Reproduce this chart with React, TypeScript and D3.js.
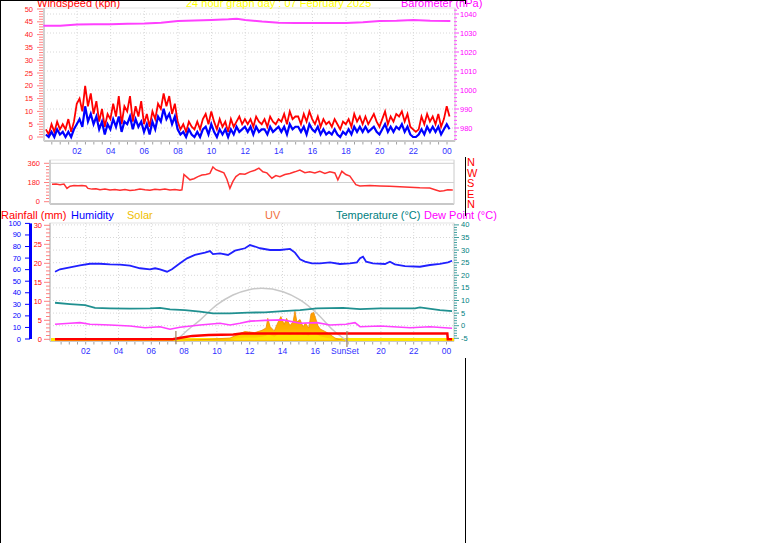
import React from "react";
import * as d3 from "d3";

const FONT = '"Liberation Sans", Arial, Helvetica, sans-serif';

// ---------- top panel data (10-minute samples from 00:09) ----------
const windStartHour = 0.15;
const windStepHour = 1 / 6;
const windGust = [
  3, 1, 5, 2, 6, 3, 5, 3, 7, 2, 6, 13, 15, 10, 20, 12, 17, 9, 14, 6, 11, 4, 9, 7,
  13, 8, 16, 5, 12, 10, 16, 6, 12, 8, 14, 5, 9, 4, 10, 7, 13, 11, 17, 12, 16, 9, 13, 6,
  3, 5, 2, 6, 4, 3, 6, 3, 7, 9, 5, 10, 6, 3, 7, 4, 6, 2, 7, 4, 6, 8, 5, 7,
  5, 7, 4, 8, 6, 5, 7, 4, 8, 6, 5, 7, 6, 9, 5, 10, 7, 8, 8, 5, 9, 6, 10, 7,
  5, 8, 4, 7, 5, 6, 4, 7, 5, 3, 6, 5, 7, 4, 9, 6, 8, 5, 8, 5, 7, 9, 6, 4,
  7, 10, 5, 8, 6, 9, 8, 10, 6, 9, 4, 3, 2, 3, 8, 5, 9, 6, 8, 5, 9, 4, 7, 12, 8,
];
const windAvg = [
  1, 0, 2, 0, 3, 1, 2, 0, 2, 0, 3, 5, 7, 4, 12, 6, 9, 5, 8, 3, 6, 1, 5, 3,
  7, 4, 8, 2, 6, 5, 8, 3, 7, 4, 6, 2, 5, 1, 6, 3, 8, 6, 11, 7, 9, 5, 8, 3,
  1, 2, 0, 3, 1, 0, 2, 0, 3, 4, 1, 5, 2, 0, 3, 1, 3, 0, 3, 1, 4, 2, 3, 4,
  2, 4, 1, 4, 2, 3, 3, 1, 4, 2, 3, 4, 2, 4, 1, 5, 3, 4, 4, 2, 4, 1, 5, 3,
  2, 4, 1, 3, 1, 2, 1, 3, 1, 0, 2, 1, 3, 1, 4, 2, 4, 2, 4, 2, 3, 4, 2, 1,
  3, 5, 2, 4, 2, 4, 3, 5, 2, 4, 1, 0, 0, 1, 3, 1, 4, 2, 4, 2, 4, 1, 3, 5, 3,
];
const baroHours = [0, 1, 2, 3, 4, 5, 6, 7, 8, 9, 10, 11, 11.5, 12, 13, 14, 15, 16, 17, 18, 19, 20, 21, 22, 23, 24.2];
const baroValues = [
  1033.8, 1033.8, 1034.5, 1034.6, 1034.6, 1034.9, 1035.0, 1035.4, 1036.3, 1036.6, 1036.9, 1037.2, 1037.5,
  1036.9, 1036.0, 1035.4, 1035.3, 1035.3, 1035.3, 1035.3, 1035.7, 1036.3, 1036.4, 1036.8, 1036.4, 1036.3,
];
const windTicks = [0, 5, 10, 15, 20, 25, 30, 35, 40, 45, 50];
const baroTicks = [980, 990, 1000, 1010, 1020, 1030, 1040];
const timeTickHours = [2, 4, 6, 8, 10, 12, 14, 16, 18, 20, 22, 24];
const timeTickLabels = ["02", "04", "06", "08", "10", "12", "14", "16", "18", "20", "22", "00"];

// ---------- middle panel: wind direction ----------
const dirHours = [
  0.15, 0.39, 0.63, 0.87, 1.05, 1.23, 1.47, 1.71, 1.95, 2.19, 2.31, 2.55, 2.79, 3.03, 3.33, 3.63, 3.93, 4.23,
  4.53, 4.83, 5.13, 5.43, 5.73, 6.03, 6.33, 6.63, 6.93, 7.23, 7.53, 7.83, 7.95, 8.07, 8.25, 8.43, 8.67, 8.91,
  9.15, 9.39, 9.63, 9.81, 9.99, 10.23, 10.47, 10.65, 10.83, 11.01, 11.19, 11.43, 11.73, 12.03, 12.33, 12.57,
  12.81, 13.05, 13.35, 13.59, 13.83, 14.13, 14.43, 14.73, 15.03, 15.33, 15.63, 15.93, 16.23, 16.53, 16.83,
  17.13, 17.31, 17.55, 17.79, 18.03, 18.21, 18.39, 18.63, 19.23, 19.83, 20.43, 21.03, 21.63, 22.23, 22.83,
  23.19, 23.43, 23.67, 23.91, 24.21,
];
const dirValues = [
  163, 165, 160, 166, 125, 145, 152, 150, 152, 148, 125, 118, 122, 112, 118, 110, 114, 108,
  115, 105, 110, 118, 112, 108, 116, 112, 118, 110, 114, 108, 112, 255, 230, 205, 215, 235,
  250, 255, 265, 325, 300, 285, 270, 210, 125, 190, 235, 262, 258, 280, 295, 315,
  280, 270, 220, 245, 235, 255, 265, 280, 297, 272, 280, 270, 285, 265, 280,
  270, 205, 285, 255, 240, 200, 160, 148, 152, 148, 145, 140, 135, 130, 128,
  110, 98, 102, 112, 110,
];
const dirTicks = [0, 180, 360];
const compassLabels = ["N", "W", "S", "E", "N"];

// ---------- bottom panel ----------
const humHours = [
  0.13, 0.43, 1.04, 1.65, 2.26, 2.87, 3.48, 4.09, 4.7, 5.31, 5.92, 6.23, 6.53, 6.96, 7.26, 7.75, 8.18, 8.66,
  9.27, 9.58, 9.76, 10.19, 10.68, 11.1, 11.71, 12.02, 12.32, 12.63, 13.24, 13.85, 14.46, 14.76, 15.07, 15.37,
  15.8, 16.29, 16.9, 17.5, 18.11, 18.54, 18.73, 18.91, 19.1, 19.52, 20.25, 20.55, 20.85, 21.47, 22.38, 22.99,
  23.6, 24.09, 24.34,
];
const humValues = [
  58.2, 60.3, 62, 63.7, 65.1, 65.1, 64.5, 64.3, 63.4, 61.2, 60.3, 61.2, 60.3, 58.2, 60.3, 65.5, 69.8, 72.7,
  74.7, 76.1, 73.5, 74.1, 72.7, 76.4, 78.5, 81.3, 80, 78.5, 77, 77, 77.9, 74.7, 68.9, 66.9,
  65.5, 65.5, 66.3, 64.9, 65.5, 66.3, 69.8, 71.2, 66.9, 65.5, 64.9, 66.9, 64.6, 63.1, 62.5, 64,
  64.9, 66.3, 67.7,
];
const tempHours = [
  0.13, 1.04, 1.96, 2.57, 3.48, 4.7, 5.92, 6.53, 7.14, 8.05, 8.97, 9.76, 10.8, 11.9, 12.93, 14.03, 15.07,
  16.1, 17.69, 18.73, 19.95, 22.08, 22.38, 23.6, 24.34,
];
const tempValues = [
  9.1, 8.6, 8.2, 7.1, 6.9, 6.8, 6.9, 7.1, 6.5, 6.2, 5.6, 4.9, 4.9, 5.2, 5.3, 5.8, 6.2,
  6.9, 7.1, 6.6, 6.9, 6.9, 7.3, 6.2, 5.8,
];
const dewHours = [
  0.13, 1.04, 1.65, 2.26, 3.48, 4.7, 5.62, 6.53, 7.14, 7.75, 8.97, 10.19, 10.8, 11.41, 12.02, 12.93, 14.03,
  15.07, 16.1, 16.9, 17.87, 18.42, 18.73, 19.95, 21.78, 22.99, 24.34,
];
const dewValues = [
  0.56, 0.95, 1.2, 0.56, 0.28, -0.1, -0.8, -0.4, -1.4, -0.6, 0.28, 0.95, 0.28, 0.95, 1.8, 2.1, 2.3,
  0.95, 1.2, 0.28, 0.56, 1.2, -0.4, -0.1, -0.8, -0.4, -1.0,
];
const rainHours = [0.13, 7.3, 7.8, 8.5, 9.5, 11.0, 11.5, 24.05, 24.08, 24.34];
const rainValues = [0, 0, 0.4, 0.9, 1.1, 1.25, 1.5, 1.5, 0, 0];
const solarHours = [
  7.5, 8.36, 9.58, 10.8, 11.7, 12.3, 12.75, 13.0, 13.1, 13.25, 13.5, 13.7, 13.9, 14.1, 14.25, 14.45, 14.64,
  14.76, 14.88, 15.07, 15.25, 15.4, 15.6, 15.74, 15.9, 16.0, 16.16, 16.3, 16.6, 16.9, 17.2, 17.5, 17.8,
];
const solarValues = [
  0, 5, 15, 25, 80, 70, 90, 110, 190, 120, 85, 150, 205, 140, 190, 130, 160,
  250, 160, 180, 120, 150, 110, 230, 240, 200, 130, 100, 80, 55, 25, 10, 0,
];
const uvValues = [
  0, 2, 6, 10, 30, 28, 35, 45, 60, 50, 35, 55, 70, 55, 65, 50, 60,
  75, 60, 65, 50, 55, 45, 70, 72, 65, 50, 40, 30, 20, 10, 4, 0,
];
const sunHours = [7.5, 8.2, 8.97, 9.99, 10.98, 11.9, 12.73, 14.03, 15.07, 16.09, 17.08, 17.93];
const sunValues = [0, 9, 17.6, 30.3, 38.7, 42.9, 44.3, 41.4, 34.5, 23.3, 9.2, 0];
const sunriseHour = 7.5;
const sunsetHour = 17.93;
const humTicks = [0, 10, 20, 30, 40, 50, 60, 70, 80, 90, 100];
const rainTicks = [0, 5, 10, 15, 20, 25, 30];
const tempTicks = [-5, 0, 5, 10, 15, 20, 25, 30, 35, 40];
const bottomTickHours = [2, 4, 6, 8, 10, 12, 14, 16, 20, 22, 24];
const bottomTickLabels = ["02", "04", "06", "08", "10", "12", "14", "16", "20", "22", "00"];
const legendItems = [
  { label: "Rainfall (mm)", x: 1, color: "#ff0000" },
  { label: "Humidity", x: 71, color: "#0000ff" },
  { label: "Solar", x: 127, color: "#f0c000" },
  { label: "UV", x: 265, color: "#f07040" },
  { label: "Temperature (°C)", x: 336, color: "#008080" },
  { label: "Dew Point (°C)", x: 424, color: "#ff00ff" },
];

// ---------- scales ----------
const xTop = d3.scaleLinear().domain([0, 24]).range([43.4, 447]);
const yWind = d3.scaleLinear().domain([0, 50]).range([137, 9]);
const yBaro = d3.scaleLinear().domain([980, 1040]).range([128, 14]);
const TOP = { x0: 44, x1: 455, y0: 8, y1: 141 };

const xMid = d3.scaleLinear().domain([0, 24]).range([49.5, 449.3]);
const yDir = d3.scaleLinear().domain([0, 360]).range([201.7, 163.3]);
const MID = { x0: 50, x1: 454, y0: 160, y1: 204 };

const xBot = d3.scaleLinear().domain([0, 24]).range([52.9, 446.5]);
const yHum = d3.scaleLinear().domain([0, 100]).range([339, 223.4]);
const yRain = d3.scaleLinear().domain([0, 30]).range([339.3, 225.3]);
const yTemp = d3.scaleLinear().domain([-5, 40]).range([338.3, 224.9]);
const ySolar = d3.scaleLinear().domain([0, 1000]).range([341, 222]);
const ySun = d3.scaleLinear().domain([0, 100]).range([341, 222]);
const BOT = { x0: 50, x1: 454, y0: 223, y1: 341 };

function seriesLine(xs: number[], ys: number[], xs_: any, ysc: any, curve: any = d3.curveLinear) {
  const pts = xs.map((x, i) => [x, ys[i]] as [number, number]);
  return d3
    .line<[number, number]>()
    .x((d) => xs_(d[0]))
    .y((d) => ysc(d[1]))
    .curve(curve)(pts) as string;
}

function Frame({ b }: { b: { x0: number; x1: number; y0: number; y1: number } }) {
  return (
    <g>
      <rect x={b.x0} y={b.y0} width={b.x1 - b.x0} height={b.y1 - b.y0} fill="#ffffff" stroke="#e4e4e4" strokeWidth={1} />
      <line x1={b.x0} x2={b.x1} y1={b.y1} y2={b.y1} stroke="#c8c8c8" strokeWidth={2} />
      <line x1={b.x0} x2={b.x0} y1={b.y0} y2={b.y1} stroke="#d0d0d0" strokeWidth={2} />
      <line x1={b.x1} x2={b.x1} y1={b.y0} y2={b.y1} stroke="#d8d8d8" strokeWidth={1} />
    </g>
  );
}

function TimeAxis({ x, y, hours, labels }: { x: any; y: number; hours: number[]; labels: string[] }) {
  const minor = d3.range(0.5, 24.01, 0.5);
  return (
    <g>
      {minor.map((h) => (
        <line key={h} x1={x(h)} x2={x(h)} y1={y + 1} y2={y + 3.5} stroke="#a0a0a0" strokeWidth={1} />
      ))}
      {hours.map((h, i) => (
        <text key={h} x={x(h)} y={y + 13} fontSize={8.5} fill="#3030ff" textAnchor="middle" fontFamily={FONT}>
          {labels[i]}
        </text>
      ))}
    </g>
  );
}

export default function App() {
  const windLine = (vals: number[]) =>
    seriesLine(
      vals.map((_, i) => windStartHour + i * windStepHour),
      vals,
      xTop,
      yWind
    );
  const solarArea = (vals: number[]) =>
    d3
      .area<number>()
      .x((_, i) => xBot(solarHours[i]))
      .y0(BOT.y1 - 1)
      .y1((d) => ySolar(d))(vals) as string;

  return (
    <div style={{ position: "absolute", left: 0, top: 0, margin: 0 }}>
      <svg width={761} height={543} style={{ display: "block", fontFamily: FONT }}>
        <defs>
          <linearGradient id="solarGrad" gradientUnits="userSpaceOnUse" x1="0" y1={ySolar(260)} x2="0" y2={BOT.y1}>
            <stop offset="0%" stopColor="#ff9900" />
            <stop offset="60%" stopColor="#ffb000" />
            <stop offset="100%" stopColor="#ffe000" />
          </linearGradient>
        </defs>
        <rect x={0} y={0} width={761} height={543} fill="#ffffff" />

        {/* ================= TOP PANEL ================= */}
        <Frame b={TOP} />
        {timeTickHours.slice(0, 11).map((h) => (
          <line key={"tg" + h} x1={xTop(h)} x2={xTop(h)} y1={TOP.y0} y2={TOP.y1 - 1} stroke="#d8d8d8" strokeDasharray="1,2" />
        ))}
        {baroTicks.map((v) => (
          <line key={"bg" + v} x1={TOP.x0} x2={TOP.x1} y1={yBaro(v)} y2={yBaro(v)} stroke="#d8d8d8" strokeDasharray="1,2" />
        ))}
        {d3.range(0, 51, 1).map((v) => (
          <line key={"wt" + v} x1={v % 5 === 0 ? 37 : 39} x2={43} y1={yWind(v)} y2={yWind(v)} stroke="#ff8080" strokeWidth={1} />
        ))}
        {windTicks.map((v) => (
          <text key={"wl" + v} x={33} y={yWind(v) + 2.5} fontSize={7.5} fill="#ff2020" textAnchor="end">
            {v}
          </text>
        ))}
        {d3.range(974, 1043, 2).map((v) => (
          <line key={"bt" + v} x1={454} x2={v % 10 === 0 ? 459 : 457} y1={yBaro(v)} y2={yBaro(v)} stroke="#ff66ff" strokeWidth={1.2} />
        ))}
        {baroTicks.map((v) => (
          <text key={"bl" + v} x={460} y={yBaro(v) + 2.5} fontSize={7.5} fill="#ff00ff">
            {v}
          </text>
        ))}
        <path d={seriesLine(baroHours, baroValues, xTop, yBaro)} fill="none" stroke="#ff40ff" strokeWidth={2} />
        <path d={windLine(windGust)} fill="none" stroke="#ff0000" strokeWidth={1.8} />
        <path d={windLine(windAvg)} fill="none" stroke="#0000ff" strokeWidth={2.2} />
        <TimeAxis x={xTop} y={TOP.y1} hours={timeTickHours} labels={timeTickLabels} />
        <text x={37} y={6.5} fontSize={11} fill="#ff0000">Windspeed (kph)</text>
        <text x={186} y={6.5} fontSize={11} fill="#ffff00">24 hour graph day : 07 February 2025</text>
        <text x={401} y={6.5} fontSize={11} fill="#ff00ff">Barometer (hPa)</text>

        {/* ================= MIDDLE PANEL ================= */}
        <Frame b={MID} />
        {dirTicks.slice(1).map((v) => (
          <line key={"dg" + v} x1={MID.x0} x2={MID.x1} y1={yDir(v)} y2={yDir(v)} stroke="#d0d0d0" strokeWidth={1} />
        ))}
        {d3.range(0, 361, 30).map((v) => (
          <line key={"dt" + v} x1={v % 180 === 0 ? 44 : 46} x2={49} y1={yDir(v)} y2={yDir(v)} stroke="#ff8080" strokeWidth={1} />
        ))}
        {dirTicks.map((v) => (
          <text key={"dl" + v} x={40} y={yDir(v) + 2.5} fontSize={7.5} fill="#ff2020" textAnchor="end">
            {v}
          </text>
        ))}
        <path d={seriesLine(dirHours, dirValues, xMid, yDir)} fill="none" stroke="#ff3030" strokeWidth={1.5} />
        {compassLabels.map((c, i) => (
          <text key={"c" + i} x={467} y={166 + i * 10.5} fontSize={11} fill="#ff0000">
            {c}
          </text>
        ))}

        {/* ================= BOTTOM PANEL ================= */}
        <Frame b={BOT} />
        {bottomTickHours.slice(0, 10).map((h) => (
          <line key={"bgv" + h} x1={xBot(h)} x2={xBot(h)} y1={BOT.y0} y2={BOT.y1 - 1} stroke="#d8d8d8" strokeDasharray="1,2" />
        ))}
        <line x1={xBot(18)} x2={xBot(18)} y1={BOT.y0} y2={BOT.y1 - 1} stroke="#d8d8d8" strokeDasharray="1,2" />
        {tempTicks.slice(1).map((v) => (
          <line key={"bgh" + v} x1={BOT.x0} x2={BOT.x1} y1={yTemp(v)} y2={yTemp(v)} stroke="#d8d8d8" strokeDasharray="1,2" />
        ))}
        <line x1={30.5} x2={30.5} y1={yHum(100)} y2={yHum(0)} stroke="#0000ff" strokeWidth={3} />
        {humTicks.map((v) => (
          <g key={"ht" + v}>
            <line x1={25} x2={30} y1={yHum(v)} y2={yHum(v)} stroke="#0000ff" strokeWidth={1} />
            <text x={21} y={yHum(v) + 2.5} fontSize={7.5} fill="#0000ff" textAnchor="end">
              {v}
            </text>
          </g>
        ))}
        {d3.range(0, 31, 1).map((v) => (
          <line key={"rt" + v} x1={v % 5 === 0 ? 44 : 46} x2={50} y1={yRain(v)} y2={yRain(v)} stroke="#ff8080" strokeWidth={1} />
        ))}
        {rainTicks.map((v) => (
          <text key={"rl" + v} x={42} y={yRain(v) + 2.5} fontSize={7.5} fill="#ff0000" textAnchor="end">
            {v}
          </text>
        ))}
        {d3.range(-5, 41, 1).map((v) => (
          <line key={"tt" + v} x1={454} x2={v % 5 === 0 ? 459 : 457} y1={yTemp(v)} y2={yTemp(v)} stroke="#40a0a0" strokeWidth={1} />
        ))}
        {tempTicks.map((v) => (
          <text key={"tl" + v} x={461} y={yTemp(v) + 2.5} fontSize={7.5} fill="#008080">
            {v}
          </text>
        ))}
        <rect x={BOT.x0 + 1} y={BOT.y1 - 3} width={BOT.x1 - BOT.x0 - 1} height={3} fill="#ffe600" />
        <path d={seriesLine(sunHours, sunValues, xBot, ySun, d3.curveMonotoneX)} fill="none" stroke="#c8c8c8" strokeWidth={1.5} />
        <path d={solarArea(solarValues)} fill="url(#solarGrad)" stroke="#f08c00" strokeWidth={0.8} />
        <path d={solarArea(uvValues)} fill="#ffe600" opacity={0.9} />
        <path d={seriesLine(rainHours, rainValues, xBot, yRain)} fill="none" stroke="#ff0000" strokeWidth={2.5} />
        <path d={seriesLine(dewHours, dewValues, xBot, yTemp)} fill="none" stroke="#ff40ff" strokeWidth={1.6} />
        <path d={seriesLine(tempHours, tempValues, xBot, yTemp)} fill="none" stroke="#209090" strokeWidth={1.8} />
        <path d={seriesLine(humHours, humValues, xBot, yHum)} fill="none" stroke="#2020ff" strokeWidth={1.8} />
        <line x1={xBot(sunriseHour)} x2={xBot(sunriseHour)} y1={331} y2={344} stroke="#a08060" strokeWidth={1.2} />
        <line x1={xBot(sunsetHour)} x2={xBot(sunsetHour)} y1={331} y2={347} stroke="#a08060" strokeWidth={1.2} />
        <TimeAxis x={xBot} y={BOT.y1} hours={bottomTickHours} labels={bottomTickLabels} />
        <text x={xBot(sunsetHour) - 2} y={BOT.y1 + 13} fontSize={8.5} fill="#3030ff" textAnchor="middle">
          SunSet
        </text>
        {legendItems.map((d) => (
          <text key={d.label} x={d.x} y={219} fontSize={11} fill={d.color}>
            {d.label}
          </text>
        ))}

        <line x1={0.5} x2={0.5} y1={0} y2={543} stroke="#000" strokeWidth={1} />
        <line x1={0} x2={466} y1={0.5} y2={0.5} stroke="#000" strokeWidth={1} />
        <line x1={465.5} x2={465.5} y1={0} y2={4} stroke="#000" strokeWidth={1} />
        <line x1={465.5} x2={465.5} y1={157} y2={216} stroke="#000" strokeWidth={1} />
        <line x1={465.5} x2={465.5} y1={358} y2={543} stroke="#000" strokeWidth={1} />
      </svg>
    </div>
  );
}
